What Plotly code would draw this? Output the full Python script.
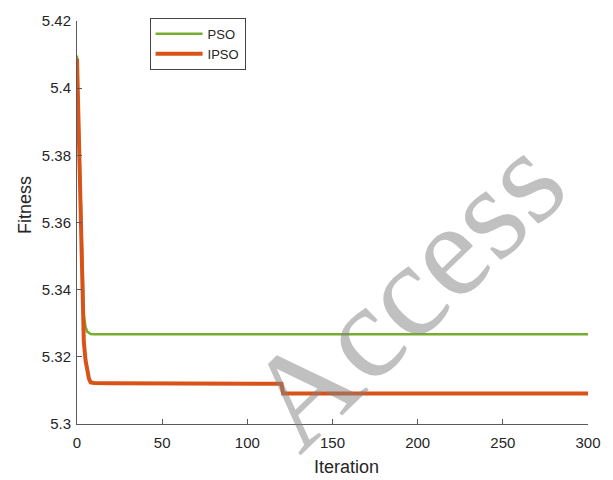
import plotly.graph_objects as go

# ---- data ----
iter_pso = [0, 1, 2, 3, 4, 5, 6, 8, 10, 300]
fit_pso = [5.4097, 5.390, 5.368, 5.345, 5.3325, 5.3290, 5.3275, 5.3268, 5.3267, 5.3267]

iter_ipso = [0, 1, 2, 3, 4, 5, 6, 7, 8, 10, 20, 120, 121, 300]
fit_ipso = [5.4088, 5.388, 5.366, 5.338, 5.3245, 5.3190, 5.3155, 5.3135, 5.3124,
            5.3122, 5.3121, 5.3120, 5.3091, 5.3091]

series_names = ["PSO", "IPSO"]
x_ticks = [0, 50, 100, 150, 200, 250, 300]
y_ticks = [5.30, 5.32, 5.34, 5.36, 5.38, 5.40, 5.42]
y_tick_labels = ["5.3", "5.32", "5.34", "5.36", "5.38", "5.4", "5.42"]

GREEN = "#77AC30"
ORANGE = "#D95319"
AXIS = "#5a5a5a"
TXT = "#262626"
FONT = "Liberation Sans, Arial, sans-serif"

fig = go.Figure()
fig.add_trace(go.Scatter(x=iter_pso, y=fit_pso, mode="lines", name=series_names[0],
                         line=dict(color=GREEN, width=2.5)))
fig.add_trace(go.Scatter(x=iter_ipso, y=fit_ipso, mode="lines", name=series_names[1],
                         line=dict(color=ORANGE, width=4)))

fig.update_layout(
    width=613, height=480,
    margin=dict(l=77, r=17, t=16, b=56),
    paper_bgcolor="white", plot_bgcolor="white",
    font=dict(family=FONT, size=15, color=TXT),
    showlegend=True,
    legend=dict(x=0.142, y=1.008, xanchor="left", yanchor="top",
                bgcolor="white", bordercolor="#444444", borderwidth=1,
                font=dict(size=13, color=TXT), tracegroupgap=0,
                itemwidth=47),
)
fig.update_xaxes(range=[0, 300], tickvals=x_ticks, showline=True, linecolor=AXIS, linewidth=1,
                 ticks="inside", ticklen=5, tickcolor=AXIS, showgrid=False, zeroline=False,
                 tickfont=dict(size=15, color=TXT), ticklabelstandoff=5)
fig.update_yaxes(range=[5.30, 5.42], tickvals=y_ticks, ticktext=y_tick_labels, showline=True,
                 linecolor=AXIS, linewidth=1, ticks="inside", ticklen=5, tickcolor=AXIS,
                 showgrid=False, zeroline=False, tickfont=dict(size=15, color=TXT),
                 ticklabelstandoff=2)

# axis titles
fig.add_annotation(text="Iteration", xref="paper", yref="paper", x=0.527, y=-0.106,
                   showarrow=False, font=dict(size=18, color=TXT, family=FONT),
                   xanchor="center", yanchor="middle")
fig.add_annotation(text="Fitness", xref="paper", yref="paper", x=-0.102, y=0.543,
                   showarrow=False, textangle=-90, font=dict(size=18, color=TXT, family=FONT),
                   xanchor="center", yanchor="middle")

# watermark
fig.add_annotation(text="Access", xref="paper", yref="paper",
                   x=(410 - 77) / 519, y=(424 - 290) / 408,
                   showarrow=False, textangle=-44,
                   font=dict(size=134, color="rgba(130,130,130,0.5)",
                             family="Liberation Serif, Times New Roman, serif"),
                   xanchor="center", yanchor="middle")

fig.write_html("out.html")
